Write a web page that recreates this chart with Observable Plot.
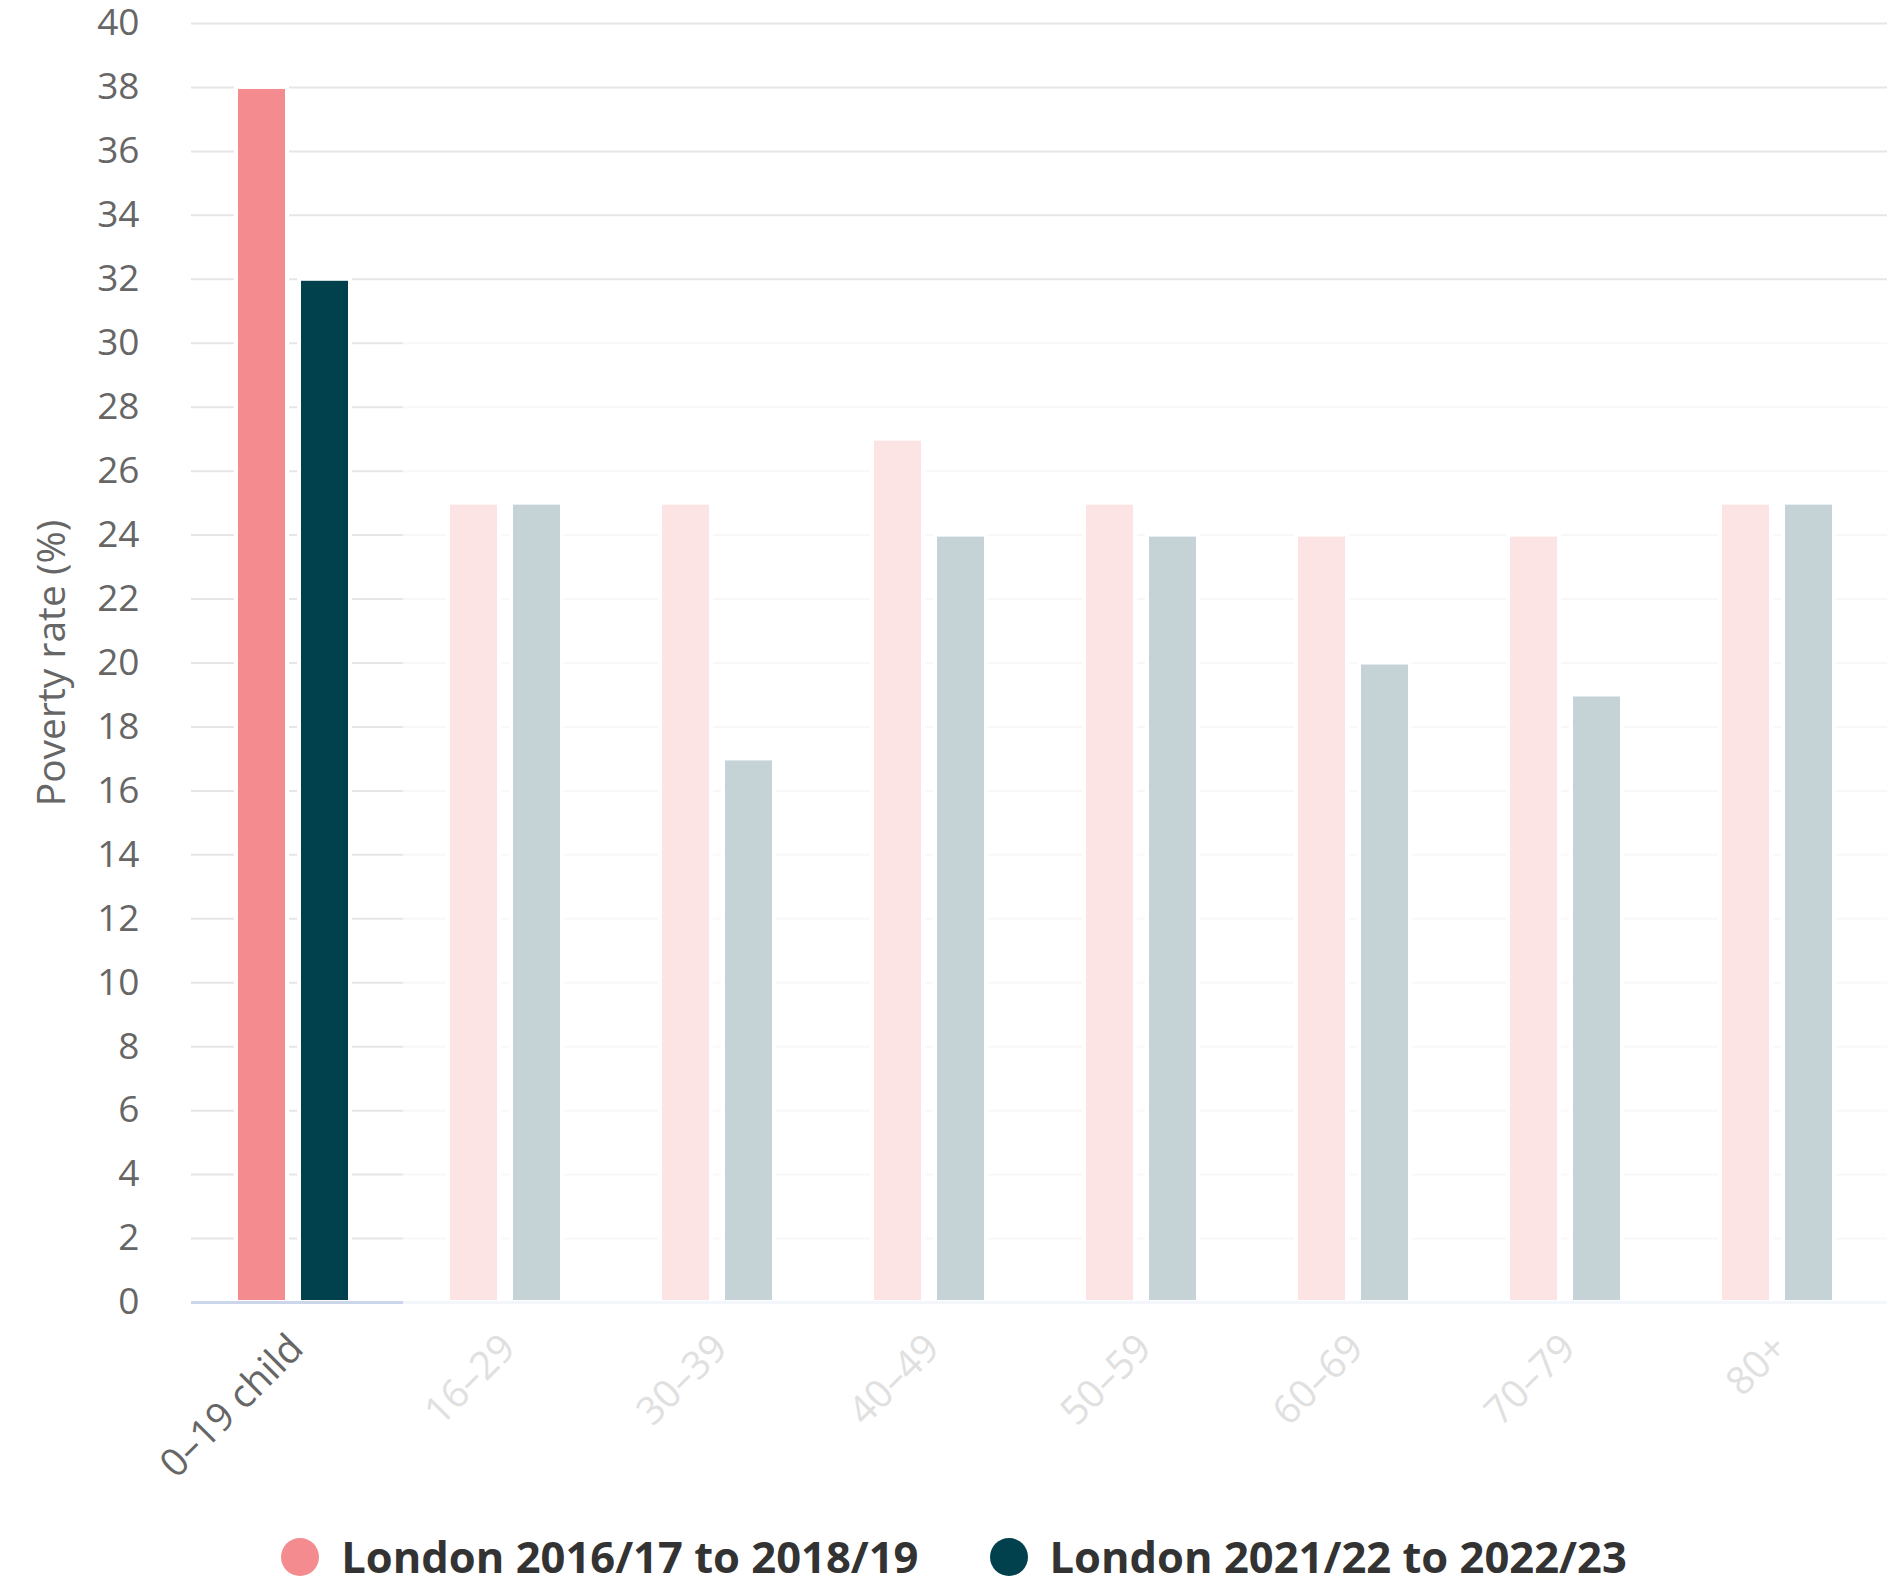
<!DOCTYPE html>
<html>
<head>
<meta charset="utf-8">
<script src="https://cdn.jsdelivr.net/npm/d3@7"></script>
<script src="https://cdn.jsdelivr.net/npm/@observablehq/plot@0.6"></script>
<style>
  html, body { margin: 0; padding: 0; background: #fff; overflow: hidden; }
  #chart svg { display: block; }
  .legend { display: flex; justify-content: center; align-items: center; gap: 71px; height: 40px;
            padding-left: 20px;
            font-family: "Open Sans", sans-serif; font-weight: bold; font-size: 43.5px; color: #333; }
  .item { display: flex; align-items: center; gap: 22px; }
  .dot { width: 38px; height: 38px; border-radius: 50%; display: block; }
  .txt { display: block; line-height: 1; }
</style>
</head>
<body>
<div id="chart"></div>
<div class="legend" id="legend"></div>
<script>
const categories = ["0–19 child", "16–29", "30–39", "40–49", "50–59", "60–69", "70–79", "80+"];
const seriesNames = ["London 2016/17 to 2018/19", "London 2021/22 to 2022/23"];
const values2016 = [38, 25, 25, 27, 25, 24, 24, 25];
const values2021 = [32, 25, 17, 24, 24, 20, 19, 25];
const yTicks = [0, 2, 4, 6, 8, 10, 12, 14, 16, 18, 20, 22, 24, 26, 28, 30, 32, 34, 36, 38, 40];
const highlighted = "0–19 child";
const strongColors = ["#f48b8f", "#01404d"];
const fadedColors = ["#fce3e4", "#c5d3d6"];

const data = categories.flatMap((c, i) => [
  {cat: c, series: seriesNames[0], value: values2016[i], s: 0},
  {cat: c, series: seriesNames[1], value: values2021[i], s: 1}
]);
const grid = categories.flatMap(c => yTicks.filter(v => v > 0).map(v => ({cat: c, v, strong: c === highlighted || v >= 32})));

const chart = Plot.plot({
  width: 1888,
  height: 1537,
  marginLeft: 189,
  marginRight: 0,
  marginTop: 23,
  marginBottom: 235,
  style: {fontFamily: "'Open Sans', sans-serif", fontSize: "36px", background: "white"},
  fx: {domain: categories, padding: 0, axis: null, label: null},
  x: {domain: seriesNames, paddingInner: 0.184, paddingOuter: 0.76, align: 0.46, axis: null},
  y: {domain: [0, 40], axis: null},
  marks: [
    Plot.ruleY(grid, {fx: "cat", y: "v", stroke: d => d.strong ? "#e6e6e6" : "#f8f8f8", strokeWidth: 2}),
    Plot.barY(data, {fx: "cat", x: "series", y: "value",
      fill: d => d.cat === highlighted ? strongColors[d.s] : fadedColors[d.s],
      stroke: "white", strokeWidth: 4}),
    Plot.ruleY(categories, {fx: d => d, y: () => 0, stroke: d => d === highlighted ? "#ccd6eb" : "#f3f6fb", strokeWidth: 3}),
    Plot.axisY({ticks: yTicks, tickSize: 0, tickPadding: 52, fill: "#666", fontSize: 37, label: null}),
    Plot.axisY({ticks: [], tickSize: 0, fill: "#666", fontSize: 39,
      label: "Poverty rate (%)", labelAnchor: "center", labelOffset: 154, labelArrow: "none"}),
    Plot.text(categories, {fx: d => d, text: d => d, frameAnchor: "bottom", dy: 48, dx: 8,
      rotate: -45, textAnchor: "end", fontSize: 39,
      fill: d => d === highlighted ? "#666" : "#e0e0e0"})
  ]
});
document.getElementById("chart").appendChild(chart);

const legend = document.getElementById("legend");
seriesNames.forEach((name, i) => {
  const item = document.createElement("div");
  item.className = "item";
  const dot = document.createElement("span");
  dot.className = "dot";
  dot.style.background = strongColors[i];
  const label = document.createElement("span");
  label.className = "txt";
  label.textContent = name;
  item.appendChild(dot);
  item.appendChild(label);
  legend.appendChild(item);
});
</script>
</body>
</html>
